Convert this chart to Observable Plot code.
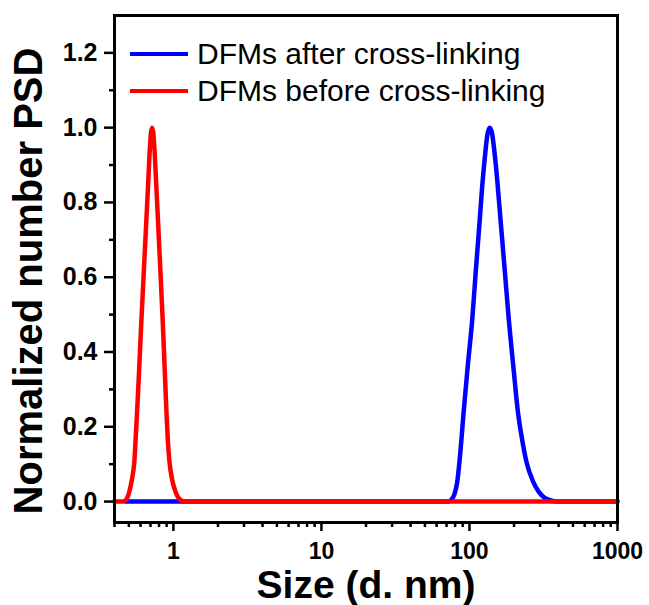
<!DOCTYPE html>
<html>
<head>
<meta charset="utf-8">
<script src="https://cdn.jsdelivr.net/npm/d3@7"></script>
<script src="https://cdn.jsdelivr.net/npm/@observablehq/plot@0.6"></script>
<style>
  body { margin: 0; background: #fff; }
  #wrap { position: relative; width: 649px; height: 605px; font-family: "Liberation Sans", Arial, sans-serif; }
  #legend { position: absolute; left: 130px; top: 35px; font-size: 30px; color: #000; }
  .row { display: flex; align-items: center; height: 37px; line-height: 37px; white-space: nowrap; }
  .row svg { margin-right: 9px; display: block; }
</style>
</head>
<body>
<div id="wrap"></div>
<script>
// Series names
const seriesNames = ["DFMs after cross-linking", "DFMs before cross-linking"];
const seriesColors = ["#0000ff", "#ff0000"];

// DFMs after cross-linking (blue)
const blueSize  = [0.474, 72.5, 75.5, 79.2, 82.5, 86, 91.5, 97.5, 104.3, 110.5, 117.4, 122, 127, 132, 137, 142, 147, 154, 162, 173, 184.5, 198, 212, 227, 243, 270, 294, 320, 350, 391, 1000];
const blueValue = [0, 0, 0.005, 0.02, 0.05, 0.115, 0.243, 0.365, 0.485, 0.62, 0.755, 0.845, 0.92, 0.98, 1.0, 0.985, 0.94, 0.86, 0.755, 0.62, 0.485, 0.36, 0.243, 0.165, 0.105, 0.052, 0.026, 0.011, 0.004, 0, 0];

// DFMs before cross-linking (red)
const redSize  = [0.4, 0.46, 0.474, 0.49, 0.504, 0.525, 0.545, 0.557, 0.569, 0.588, 0.608, 0.632, 0.657, 0.675, 0.69, 0.705, 0.718, 0.732, 0.748, 0.765, 0.786, 0.815, 0.843, 0.87, 0.897, 0.918, 0.94, 0.985, 1.032, 1.08, 1.145, 1.2, 1000];
const redValue = [0, 0, 0.003, 0.012, 0.027, 0.06, 0.108, 0.175, 0.243, 0.36, 0.485, 0.62, 0.755, 0.85, 0.93, 0.985, 1.0, 0.985, 0.93, 0.85, 0.755, 0.625, 0.5, 0.37, 0.243, 0.16, 0.108, 0.055, 0.027, 0.01, 0.002, 0, 0];

// Axis ticks
const xMajor = [1, 10, 100, 1000];
const xMinor = [0.4, 0.5, 0.6, 0.7, 0.8, 0.9, 2, 3, 4, 5, 6, 7, 8, 9, 20, 30, 40, 50, 60, 70, 80, 90, 200, 300, 400, 500, 600, 700, 800, 900];
const yMajor = [0, 0.2, 0.4, 0.6, 0.8, 1.0, 1.2];
const yMinor = [0.1, 0.3, 0.5, 0.7, 0.9, 1.1];

const xTitle = "Size (d. nm)";
const yTitle = "Normalized number PSD";

const blueData = blueSize.map((s, i) => ({size: s, value: blueValue[i]}));
const redData = redSize.map((s, i) => ({size: s, value: redValue[i]}));

const font = '"Liberation Sans", Arial, sans-serif';

const chart = Plot.plot({
  width: 649,
  height: 605,
  marginLeft: 114,
  marginRight: 32,
  marginTop: 15,
  marginBottom: 83,
  style: {fontFamily: font, background: "white", color: "black"},
  x: {type: "log", domain: [0.4, 1000]},
  y: {domain: [-0.056, 1.3]},
  marks: [
    Plot.line(blueData, {x: "size", y: "value", stroke: seriesColors[0], strokeWidth: 4.5, curve: "monotone-x"}),
    Plot.line(redData, {x: "size", y: "value", stroke: seriesColors[1], strokeWidth: 4.5, curve: "monotone-x"}),
    Plot.frame({stroke: "black", strokeWidth: 3}),
    Plot.axisY(yMajor, {tickSize: 10, tickPadding: 7, tickFormat: d3.format(".1f"), fontSize: 25, fontWeight: "bold", label: null, strokeWidth: 2.5}),
    Plot.axisY(yMinor, {tickSize: 5, tickFormat: () => "", label: null, strokeWidth: 2.5}),
    Plot.axisX(xMajor, {tickSize: 9, tickPadding: 11, tickFormat: d => String(d), fontSize: 23, fontWeight: "bold", label: null, strokeWidth: 2.5}),
    Plot.axisX(xMinor, {tickSize: 5, tickFormat: () => "", label: null, strokeWidth: 2.5}),
    Plot.text([yTitle], {text: d => d, frameAnchor: "left", dx: -85, dy: 12, rotate: -90, textAnchor: "middle", fontSize: 40, fontWeight: "bold"}),
    Plot.text([xTitle], {text: d => d, frameAnchor: "bottom", dy: 48, lineAnchor: "top", textAnchor: "middle", fontSize: 39, fontWeight: "bold"})
  ]
});

const wrap = document.getElementById("wrap");
wrap.appendChild(chart);

const legend = document.createElement("div");
legend.id = "legend";
seriesNames.forEach((name, i) => {
  const row = document.createElement("div");
  row.className = "row";
  row.innerHTML = `<svg width="58" height="6"><line x1="0" x2="58" y1="3" y2="3" stroke="${seriesColors[i]}" stroke-width="4"/></svg><span>${name}</span>`;
  legend.appendChild(row);
});
wrap.appendChild(legend);
</script>
</body>
</html>
